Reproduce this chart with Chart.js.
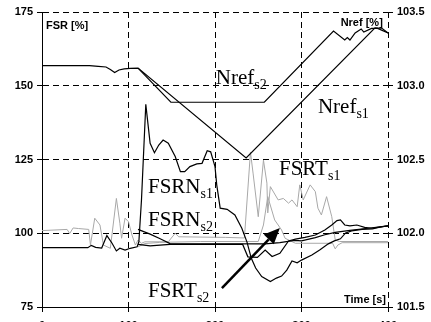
<!DOCTYPE html>
<html><head><meta charset="utf-8">
<script src="https://cdn.jsdelivr.net/npm/chart.js@4"></script>
<style>html,body{margin:0;padding:0;overflow:hidden;background:#fff;width:431px;height:322px}canvas{display:block}</style>
</head><body>
<canvas id="c" width="431" height="336"></canvas>
<script>
// ---- data: [time s, value] ----
const timeTicks = [0, 100, 200, 300, 400];
const fsrTicks = [75, 100, 125, 150, 175];
const nrefTicks = [101.5, 102.0, 102.5, 103.0, 103.5];

const fsrnS1 = [[0,95.1],[53,95.1],[57,95.9],[62,95.2],[69,95.0],[75,99.2],[81,96.6],[86,94.0],[90,94.9],[96,94.3],[102,94.9],[110,95.4],[112,97.1],[115,111.3],[120,143.7],[125,130.5],[130,127.3],[135,129.9],[140,131.6],[146,130.5],[154,126.0],[160,120.9],[165,120.9],[171,122.6],[179,123.5],[185,123.7],[191,128.0],[195,127.6],[200,122.6],[202,116.4],[206,108.5],[214,108.1],[223,106.2],[231,101.7],[237,97.0],[242,91.5],[247,88.2],[254,85.3],[264,83.6],[271,84.8],[277,85.5],[283,87.5],[289,90.6],[295,90.0],[300,90.9],[312,92.6],[321,94.3],[331,96.4],[338,97.4],[345,98.1],[351,100.1],[358,100.8],[370,101.3],[382,101.5],[393,102.2],[400,102.5]];
const fsrnS2 = [[111,101.3],[125,99.7],[136,98.2],[148,96.5],[258,96.4],[275,96.8],[292,97.6],[300,97.4],[316,98.5],[327,99.5],[339,100.3],[356,101.0],[377,101.7],[400,102.5]];
const fsrBlack3 = [[111,96.2],[125,95.7],[148,96.2],[232,96.2],[238,92.0],[249,91.8],[258,94.3],[266,92.1],[275,93.2],[285,97.4],[293,98.0],[304,98.6],[316,99.4],[327,101.1],[335,102.8],[341,104.3],[345,104.5],[350,102.8],[356,102.5],[364,102.8],[373,102.0],[381,101.7],[388,102.0],[400,102.5]];
const fsrtS1 = [[0,100.9],[29,101.3],[32,99.9],[36,101.8],[42,101.6],[54,101.3],[56,96.0],[61,105.1],[67,102.8],[71,96.0],[79,94.9],[86,111.8],[90,103.4],[92,98.3],[96,105.1],[100,103.9],[104,99.4],[108,96.0],[111,97.7],[115,96.6],[119,97.1],[146,97.1],[154,100.0],[158,98.8],[212,98.6],[234,98.4],[241,127.5],[244,120.4],[250,105.6],[256,124.8],[260,117.0],[261,106.9],[264,115.8],[273,111.3],[279,111.8],[285,110.2],[289,111.3],[295,109.0],[298,116.4],[302,111.3],[310,116.4],[316,114.1],[319,108.5],[323,106.2],[329,112.4],[335,105.6],[339,97.7],[344,97.2],[400,97.2]];
const fsrtS2 = [[111,95.4],[119,96.5],[136,96.9],[183,97.2],[250,97.2],[256,102.8],[261,112.4],[269,104.5],[277,101.1],[281,98.3],[293,96.6],[336,96.6],[339,94.7],[342,96.0],[347,96.8],[400,96.8]];
const nrefS1 = [[0,103.136],[55,103.136],[65,103.132],[74,103.127],[79,103.110],[84,103.090],[89,103.107],[95,103.114],[102,103.118],[111,103.120],[236,102.51],[385,103.392],[393,103.39],[400,103.358]];
const nrefS2 = [[111,103.12],[149,102.888],[257,102.888],[337,103.371],[350,103.31],[353,103.326],[356,103.31],[362,103.358],[369,103.385],[372,103.364],[381,103.389],[388,103.389],[400,103.358]];

// labels anchored in data units (time, FSR axis)
const seriesLabels = [
  ['Nref','s2',201,150.6],
  ['Nref','s1',319,140.8],
  ['FSRT','s1',274,119.7],
  ['FSRN','s1',122.5,113.6],
  ['FSRN','s2',122.5,102.5],
  ['FSRT','s2',122.5,78.4]
];
const axisTitles = [
  ['FSR [%]','left',4.6,169.2],
  ['Nref [%]','right',394,170.3],
  ['Time [s]','right',397.7,76.4]
];
const arrowFrom = [208,81.4], arrowTo = [275,101.8];

const pts = a => a.map(([x,y]) => ({x, y}));
const BLACK = '#000', GRAY = '#a8a8a8';
function ds(data, color, w, axis){
  return {data: pts(data), borderColor: color, borderWidth: w, yAxisID: axis, pointRadius: 0, tension: 0, fill: false};
}

const annot = {
  id: 'annot',
  afterDatasetsDraw(chart){
    const {ctx, scales:{x, y}} = chart;
    ctx.save();
    ctx.fillStyle = '#000';
    ctx.textBaseline = 'alphabetic';
    for (const [name, sub, t, v] of seriesLabels){
      const px = x.getPixelForValue(t), py = y.getPixelForValue(v);
      ctx.font = '21px "Liberation Serif"'; ctx.textAlign = 'left';
      ctx.fillText(name, px, py);
      const w = ctx.measureText(name).width;
      ctx.font = '14px "Liberation Serif"';
      ctx.fillText(sub, px + w, py + 5);
    }
    ctx.font = 'bold 11px "Liberation Sans"';
    for (const [txt, al, t, v] of axisTitles){
      ctx.textAlign = al;
      ctx.fillText(txt, x.getPixelForValue(t), y.getPixelForValue(v));
    }
    // arrow
    const x1 = x.getPixelForValue(arrowFrom[0]), y1 = y.getPixelForValue(arrowFrom[1]);
    const x2 = x.getPixelForValue(arrowTo[0]), y2 = y.getPixelForValue(arrowTo[1]);
    const ang = Math.atan2(y2 - y1, x2 - x1), hl = 16, hw = 7;
    const bx = x2 - hl*Math.cos(ang), by = y2 - hl*Math.sin(ang);
    ctx.strokeStyle = '#000'; ctx.lineWidth = 2.5;
    ctx.beginPath(); ctx.moveTo(x1, y1); ctx.lineTo(bx, by); ctx.stroke();
    ctx.beginPath();
    ctx.moveTo(x2, y2);
    ctx.lineTo(bx + hw*Math.sin(ang), by - hw*Math.cos(ang));
    ctx.lineTo(bx - hw*Math.sin(ang), by + hw*Math.cos(ang));
    ctx.closePath(); ctx.fill();
    ctx.restore();
  }
};

const tickFont = {family: 'Liberation Sans', size: 11, weight: 'bold'};
new Chart(document.getElementById('c'), {
  type: 'line',
  data: {datasets: [
    ds(nrefS1, BLACK, 1.2, 'y2'),
    ds(nrefS2, BLACK, 1.2, 'y2'),
    ds(fsrnS1, BLACK, 1.2, 'y'),
    ds(fsrnS2, BLACK, 1.2, 'y'),
    ds(fsrBlack3, BLACK, 1.2, 'y'),
    ds(fsrtS2, GRAY, 1, 'y'),
    ds(fsrtS1, GRAY, 1, 'y')
  ]},
  options: {
    responsive: false, animation: false, devicePixelRatio: 1,
    layout: {padding: {top: 12, left: 0, right: 0, bottom: 0}},
    plugins: {legend: {display: false}, tooltip: {enabled: false}},
    scales: {
      x: {type: 'linear', min: 0, max: 400,
        afterBuildTicks: s => { s.ticks = timeTicks.map(v => ({value: v})); },
        ticks: {font: tickFont, color: '#000', padding: 7, maxRotation: 0},
        grid: {color: '#000', lineWidth: 1, tickLength: 5, tickBorderDash: []},
        border: {display: true, color: '#000', width: 1, dash: [6,4]},
        afterFit: s => { s.height = 29; }
      },
      y: {position: 'left', min: 75, max: 175,
        afterBuildTicks: s => { s.ticks = fsrTicks.map(v => ({value: v})); },
        ticks: {font: tickFont, color: '#000', padding: 4},
        grid: {color: '#000', lineWidth: 1, tickLength: 5, tickBorderDash: []},
        border: {display: true, color: '#000', width: 1, dash: [6,4]},
        afterFit: s => { s.width = 42; }
      },
      y2: {position: 'right', min: 101.5, max: 103.5,
        afterBuildTicks: s => { s.ticks = nrefTicks.map(v => ({value: v})); },
        ticks: {font: tickFont, color: '#000', padding: 4, callback: v => Number(v).toFixed(1)},
        grid: {drawOnChartArea: false, color: '#000', tickLength: 5},
        border: {display: false},
        afterFit: s => { s.width = 43; }
      }
    }
  },
  plugins: [annot]
});
</script></body></html>
